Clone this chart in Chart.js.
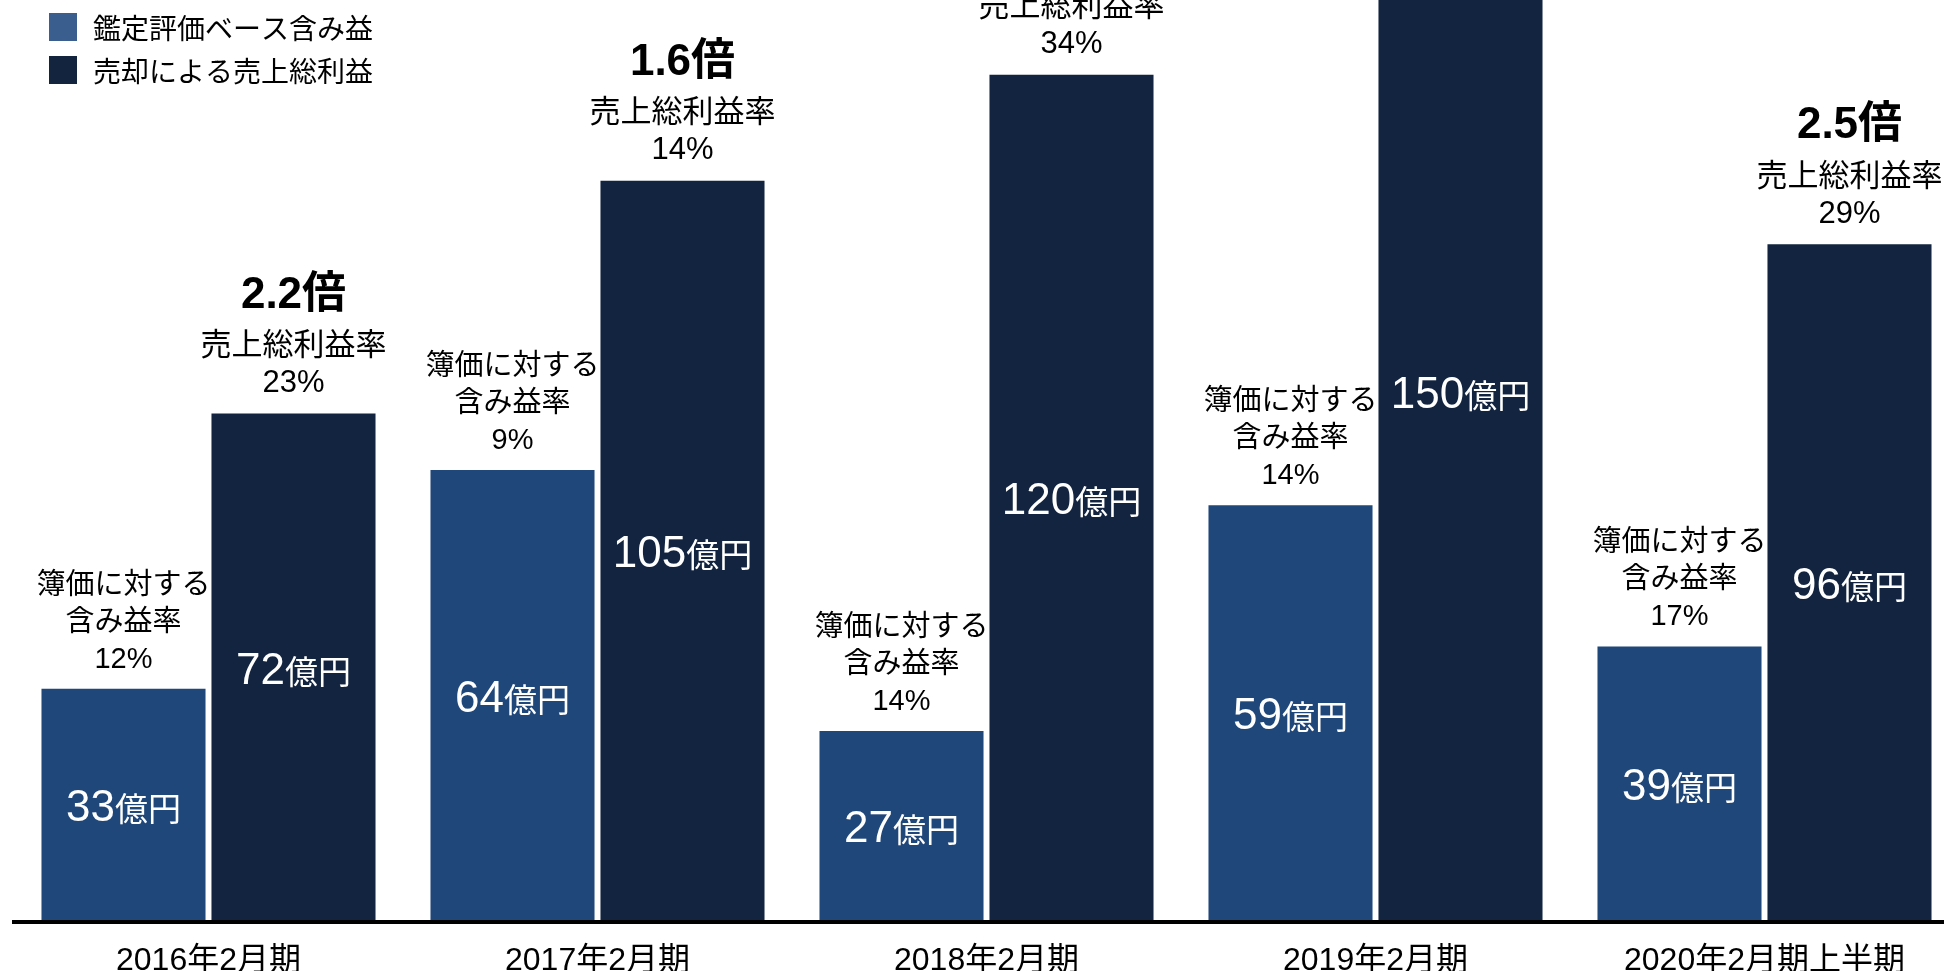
<!DOCTYPE html>
<html lang="ja">
<head>
<meta charset="utf-8">
<title>含み益と売上総利益</title>
<script src="https://cdn.jsdelivr.net/npm/chart.js@4/dist/chart.umd.min.js"></script>
<style>
  html, body { margin: 0; padding: 0; background: #ffffff; overflow: hidden; }
  #wrap { position: absolute; left: 0; top: 0; width: 1960px; height: 1000px; }
</style>
</head>
<body>
<div id="wrap"><canvas id="chart"></canvas></div>
<script>
// 決算期
const categories = ['2016年2月期', '2017年2月期', '2018年2月期', '2019年2月期', '2020年2月期上半期'];
// 鑑定評価ベース含み益（億円）
const appraisalGain = [33, 64, 27, 59, 39];
// 売却による売上総利益（億円）
const saleGrossProfit = [72, 105, 120, 150, 96];
// 簿価に対する含み益率（%）
const bookGainRate = [12, 9, 14, 14, 17];
// 売上総利益率（%）
const grossMarginRate = [23, 14, 34, null, 29];
// 売上総利益 ÷ 含み益（倍）
const profitMultiple = ['2.2', '1.6', null, null, '2.5'];
// 凡例
const seriesNames = ['鑑定評価ベース含み益', '売却による売上総利益'];

const LATIN = '"Liberation Sans", Arial, sans-serif';
const CJK = '"Noto Sans CJK JP", sans-serif';
const MIX = '"Liberation Sans", "Noto Sans CJK JP", sans-serif';

// "33億円" のような金額ラベル（数字と単位でサイズが異なる）
function drawAmount(ctx, cx, cy, num) {
  const a = String(num), b = '億円';
  ctx.font = '44px ' + LATIN;
  const wa = ctx.measureText(a).width;
  ctx.font = '33px ' + CJK;
  const wb = ctx.measureText(b).width;
  const left = cx - (wa + wb) / 2;
  const base = cy + 16;
  ctx.textAlign = 'left';
  ctx.textBaseline = 'alphabetic';
  ctx.fillStyle = '#ffffff';
  ctx.font = '44px ' + LATIN;
  ctx.fillText(a, left, base);
  ctx.font = '33px ' + CJK;
  ctx.fillText(b, left + wa, base);
}

function drawLines(ctx, cx, lines, lastCenter, step, font) {
  ctx.textAlign = 'center';
  ctx.textBaseline = 'middle';
  ctx.fillStyle = '#000000';
  ctx.font = font;
  const n = lines.length;
  lines.forEach((t, k) => ctx.fillText(t, cx, lastCenter - (n - 1 - k) * step));
}

// 棒の中と上に注記を描く
const annotationPlugin = {
  id: 'barAnnotations',
  afterDatasetsDraw(chart) {
    const ctx = chart.ctx;
    const light = chart.getDatasetMeta(0).data;
    const dark = chart.getDatasetMeta(1).data;
    ctx.save();
    categories.forEach((_, i) => {
      const bl = light[i], bd = dark[i];
      drawAmount(ctx, bl.x, (bl.y + bl.base) / 2, appraisalGain[i]);
      drawAmount(ctx, bd.x, (bd.y + bd.base) / 2, saleGrossProfit[i]);

      drawLines(ctx, bl.x, ['簿価に対する', '含み益率', bookGainRate[i] + '%'],
        bl.y - 29, 37, '29px ' + MIX);

      if (grossMarginRate[i] !== null) {
        const last = bd.y - 30;
        drawLines(ctx, bd.x, ['売上総利益率', grossMarginRate[i] + '%'], last, 37, '31px ' + MIX);
        if (profitMultiple[i] !== null) {
          drawLines(ctx, bd.x, [profitMultiple[i] + '倍'], last - 37 - 51, 0, 'bold 44px ' + MIX);
        }
      }
    });
    ctx.restore();
  }
};

// 左上の凡例
const legendColors = ['#3A5F8E', '#13243F'];
const legendPlugin = {
  id: 'cornerLegend',
  afterDraw(chart) {
    const ctx = chart.ctx;
    ctx.save();
    chart.data.datasets.forEach((ds, k) => {
      const y = 13 + k * 43;
      ctx.fillStyle = legendColors[k];
      ctx.fillRect(49, y, 28, 28);
      ctx.fillStyle = '#000000';
      ctx.font = '28px ' + CJK;
      ctx.textAlign = 'left';
      ctx.textBaseline = 'middle';
      ctx.fillText(ds.label, 93, y + 15);
    });
    ctx.restore();
  }
};

new Chart(document.getElementById('chart'), {
  type: 'bar',
  data: {
    labels: categories,
    datasets: [
      {
        label: seriesNames[0],
        data: appraisalGain,
        backgroundColor: '#1F477A',
        categoryPercentage: 0.874,
        barPercentage: 0.965
      },
      {
        label: seriesNames[1],
        data: saleGrossProfit,
        backgroundColor: '#12243F',
        categoryPercentage: 0.874,
        barPercentage: 0.965
      }
    ]
  },
  options: {
    responsive: true,
    maintainAspectRatio: false,
    animation: false,
    layout: { padding: { left: 14, right: 1, top: 0, bottom: 0 } },
    plugins: {
      legend: { display: false },
      tooltip: { enabled: false }
    },
    scales: {
      x: {
        grid: { display: false, drawTicks: false },
        border: { display: true, color: '#000000', width: 4, z: 1 },
        ticks: {
          color: '#000000',
          font: { family: MIX, size: 32 },
          padding: 20,
          maxRotation: 0,
          autoSkip: false
        }
      },
      y: { display: false, min: 0, max: 130.6 }
    }
  },
  plugins: [annotationPlugin, legendPlugin]
});
</script>
</body>
</html>
